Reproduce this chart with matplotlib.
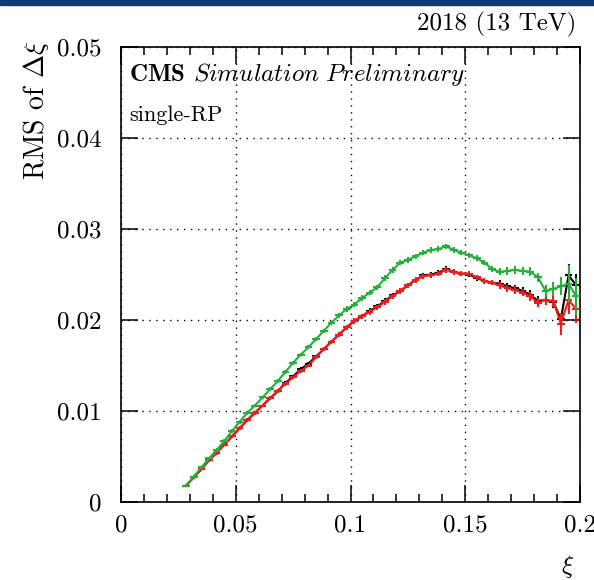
import matplotlib
matplotlib.use("Agg")
import matplotlib.pyplot as plt
import numpy as np

plt.rcParams['font.family'] = ['cmr10', 'DejaVu Serif']
plt.rcParams['mathtext.fontset'] = 'cm'
plt.rcParams['axes.unicode_minus'] = False

# bin centres (60 bins over 0..0.2, the first 8 bins are empty)
bin_w = 0.2 / 60
xi = (np.arange(8, 60) + 0.5) * bin_w

rms_green = [0.0018, 0.0028, 0.0038, 0.0048, 0.0057, 0.0067, 0.0078, 0.0088,
             0.0098, 0.0106, 0.0115, 0.0124, 0.0133, 0.0143, 0.0153, 0.0162,
             0.0170, 0.0179, 0.0188, 0.0197, 0.0205, 0.0212, 0.0217, 0.0224,
             0.0230, 0.0236, 0.0246, 0.0255, 0.0263, 0.0266, 0.0270, 0.0274,
             0.0277, 0.0278, 0.0281, 0.0277, 0.0274, 0.0271, 0.0268, 0.0263,
             0.0256, 0.0253, 0.0254, 0.0255, 0.0254, 0.0253, 0.0247, 0.0232,
             0.0234, 0.0237, 0.0240, 0.0226]
rms_red = [0.0018, 0.0027, 0.0036, 0.0046, 0.0054, 0.0063, 0.0072, 0.0081,
           0.0090, 0.0098, 0.0106, 0.0114, 0.0122, 0.0130, 0.0137, 0.0144,
           0.0150, 0.0159, 0.0168, 0.0176, 0.0184, 0.0192, 0.0199, 0.0204,
           0.0209, 0.0214, 0.0220, 0.0226, 0.0232, 0.0238, 0.0244, 0.0248,
           0.0249, 0.0251, 0.0255, 0.0253, 0.0251, 0.0251, 0.0247, 0.0243,
           0.0241, 0.0238, 0.0235, 0.0233, 0.0230, 0.0226, 0.0219, 0.0222,
           0.0221, 0.0196, 0.0222, 0.0212]
rms_black = [0.0018, 0.0027, 0.0036, 0.0046, 0.0054, 0.0063, 0.0072, 0.0081,
             0.0090, 0.0098, 0.0106, 0.0114, 0.0122, 0.0131, 0.0138, 0.0146,
             0.0152, 0.0160, 0.0168, 0.0176, 0.0184, 0.0192, 0.0199, 0.0204,
             0.0210, 0.0215, 0.0221, 0.0227, 0.0232, 0.0238, 0.0244, 0.0249,
             0.0250, 0.0252, 0.0256, 0.0253, 0.0251, 0.0250, 0.0246, 0.0243,
             0.0241, 0.0240, 0.0237, 0.0235, 0.0232, 0.0228, 0.0221, 0.0222,
             0.0220, 0.0201, 0.0249, 0.0238]

err_green = [0.0002] * 20 + [0.0003] * 20 + [0.0003, 0.0004, 0.0004, 0.0004,
             0.0004, 0.0005, 0.0005, 0.0007, 0.0008, 0.0010, 0.0020, 0.0020]
err_red = [0.0002] * 20 + [0.0003] * 20 + [0.0003, 0.0004, 0.0004, 0.0004,
           0.0004, 0.0005, 0.0005, 0.0006, 0.0007, 0.0012, 0.0015, 0.0015]
err_black = [0.0002] * 20 + [0.0003] * 20 + [0.0003, 0.0004, 0.0004, 0.0004,
             0.0004, 0.0005, 0.0005, 0.0006, 0.0007, 0.0005, 0.0013, 0.0013]

x_ticks = [0, 0.05, 0.1, 0.15, 0.2]
x_ticklabels = ['0', '0.05', '0.1', '0.15', '0.2']
y_ticks = [0, 0.01, 0.02, 0.03, 0.04, 0.05]
y_ticklabels = ['0', '0.01', '0.02', '0.03', '0.04', '0.05']

W, H = 594, 580
fig = plt.figure(figsize=(W / 100, H / 100), dpi=100)
ax = fig.add_axes([121 / W, 1 - 502 / H, (580 - 121) / W, (502 - 47) / H])

for y, e, c, z in [(rms_black, err_black, 'black', 3),
                   (rms_red, err_red, '#ee1c1c', 4),
                   (rms_green, err_green, '#25b03a', 5)]:
    ax.errorbar(xi, y, xerr=bin_w / 2, yerr=e, color=c, lw=1.5,
                elinewidth=1.5, capsize=0, zorder=z)

ax.set_xlim(0, 0.2)
ax.set_ylim(0, 0.05)
ax.set_xticks(x_ticks)
ax.set_xticklabels(x_ticklabels)
ax.set_yticks(y_ticks)
ax.set_yticklabels(y_ticklabels)
ax.set_xticks(np.arange(0, 0.2001, 0.01), minor=True)

ax.grid(True, which='major', color='black', lw=1.0, linestyle=(0, (1, 4)))
ax.tick_params(which='both', direction='in', top=True, right=True,
               labelsize=18, width=1.1, colors='black')
ax.tick_params(axis='x', which='major', length=12, pad=9)
ax.tick_params(axis='x', which='minor', length=6)
ax.tick_params(axis='y', which='major', length=12, pad=14)
for s in ax.spines.values():
    s.set_linewidth(1.2)

ax.text(0.018, 0.925, r'$\mathbf{CMS}$ $\mathit{Simulation\ Preliminary}$',
        transform=ax.transAxes, fontsize=18, ha='left', va='baseline')
ax.text(0.018, 0.837, 'single-RP', transform=ax.transAxes, fontsize=16,
        ha='left', va='baseline')

fig.text(576 / W, 1 - 24 / H, '2018 (13 TeV)', fontsize=18, ha='right',
         va='center')
fig.text(36 / W, 1 - 40 / H, r'RMS of $\mathit{\Delta}\xi$', fontsize=20,
         rotation=90, ha='center', va='top')
fig.text(568 / W, 1 - 566 / H, r'$\xi$', fontsize=18, ha='center',
         va='center')

# dark band along the top edge
fig.patches.append(plt.Rectangle((0, 1 - 5 / H), 1, 5 / H,
                                 transform=fig.transFigure,
                                 color='#0d3b78', zorder=0))

fig.savefig('out.png', dpi=100)
